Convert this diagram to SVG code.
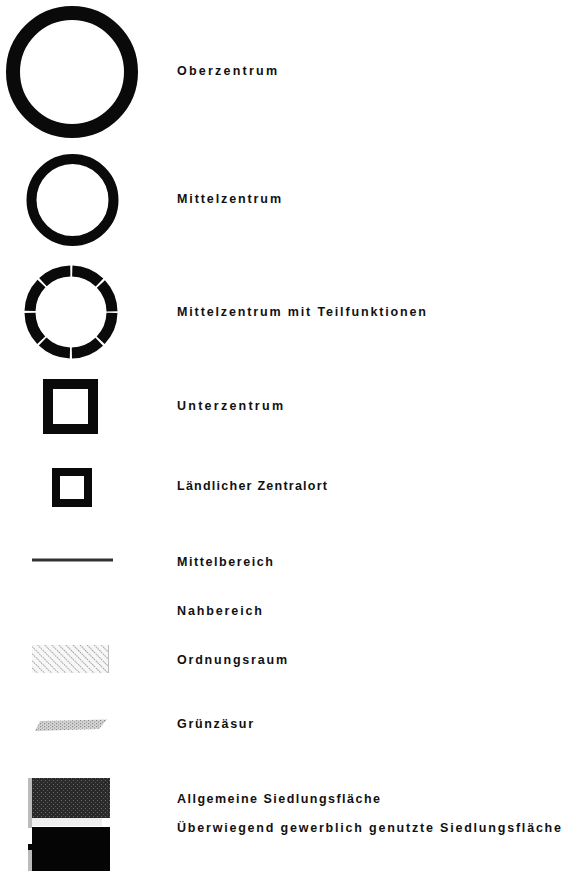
<svg xmlns="http://www.w3.org/2000/svg" width="563" height="871" viewBox="0 0 563 871">
<style>
  text { font-family: "Liberation Sans", Arial, sans-serif; font-size: 12.5px; font-weight: bold; fill: #111; }
  .ring { fill: none; stroke: #0a0a0a; }
</style>
<defs>
  <pattern id="hatch" width="5" height="5" patternUnits="userSpaceOnUse" patternTransform="rotate(-45)">
    <line x1="0" y1="0" x2="0" y2="5" stroke="#666" stroke-width="1.3" stroke-dasharray="1.4 1.2"/>
  </pattern>
  <pattern id="speck" width="4" height="3" patternUnits="userSpaceOnUse">
    <rect width="4" height="3" fill="#d6d6d6"/>
    <rect x="0" y="0" width="1.2" height="1.2" fill="#888"/>
    <rect x="2" y="1.5" width="1.2" height="1.2" fill="#999"/>
  </pattern>
  <pattern id="dark" width="4" height="4" patternUnits="userSpaceOnUse">
    <rect width="4" height="4" fill="#2a2a2a"/>
    <rect x="1" y="0" width="1" height="1" fill="#6a6a6a"/>
    <rect x="3" y="2" width="1" height="1" fill="#555"/>
  </pattern>
</defs>

<g id="oberzentrum">
  <circle class="ring" cx="72" cy="72" r="59" stroke-width="14"/>
  <text x="177" y="75" textLength="100" lengthAdjust="spacing">Oberzentrum</text>
</g>

<g id="mittelzentrum">
  <circle class="ring" cx="72.5" cy="200" r="41" stroke-width="10"/>
  <text x="177" y="203" textLength="104" lengthAdjust="spacing">Mittelzentrum</text>
</g>

<g id="mittelzentrum-teil">
  <circle class="ring" cx="71" cy="312" r="41" stroke-width="11" stroke-dasharray="30.2 2" stroke-dashoffset="31.2"/>
  <text x="177" y="316" textLength="249" lengthAdjust="spacing">Mittelzentrum mit Teilfunktionen</text>
</g>

<g id="unterzentrum">
  <rect class="ring" x="48" y="384" width="45" height="45" stroke-width="10"/>
  <text x="177" y="410" textLength="106" lengthAdjust="spacing">Unterzentrum</text>
</g>

<g id="laendlicher-zentralort">
  <rect class="ring" x="56" y="472" width="32" height="31" stroke-width="8"/>
  <text x="177" y="490" textLength="150" lengthAdjust="spacing">Ländlicher Zentralort</text>
</g>

<g id="mittelbereich">
  <line x1="32" y1="560" x2="113" y2="560" stroke="#333" stroke-width="3"/>
  <text x="177" y="566" textLength="96" lengthAdjust="spacing">Mittelbereich</text>
</g>

<g id="nahbereich">
  <text x="177" y="615" textLength="85" lengthAdjust="spacing">Nahbereich</text>
</g>

<g id="ordnungsraum">
  <rect x="32" y="645" width="76" height="28" fill="#f7f7f7"/>
  <rect x="32" y="645" width="76" height="28" fill="url(#hatch)"/>
  <line x1="108.5" y1="645" x2="108.5" y2="673" stroke="#bbb" stroke-width="1"/>
  <text x="177" y="664" textLength="110" lengthAdjust="spacing">Ordnungsraum</text>
</g>

<g id="gruenzaesur">
  <polygon points="40,721 107,719.5 99,729 35,731" fill="url(#speck)"/>
  <text x="177" y="728" textLength="76" lengthAdjust="spacing">Grünzäsur</text>
</g>

<g id="allgemeine-siedlungsflaeche">
  <rect x="28" y="778" width="4" height="50" fill="#bbb"/>
  <rect x="32" y="778" width="78" height="40" fill="url(#dark)"/>
  <rect x="32" y="818" width="70" height="8" fill="#eee"/>
  <text x="177" y="803" textLength="203" lengthAdjust="spacing">Allgemeine Siedlungsfläche</text>
</g>

<g id="gewerbliche-siedlungsflaeche">
  <rect x="32" y="827" width="78" height="44" fill="#050505"/>
  <rect x="28" y="844" width="4" height="6" fill="#050505"/>
  <rect x="28" y="850" width="4" height="21" fill="#bbb"/>
  <text x="177" y="832" textLength="384" lengthAdjust="spacing">Überwiegend gewerblich genutzte Siedlungsfläche</text>
</g>
</svg>
